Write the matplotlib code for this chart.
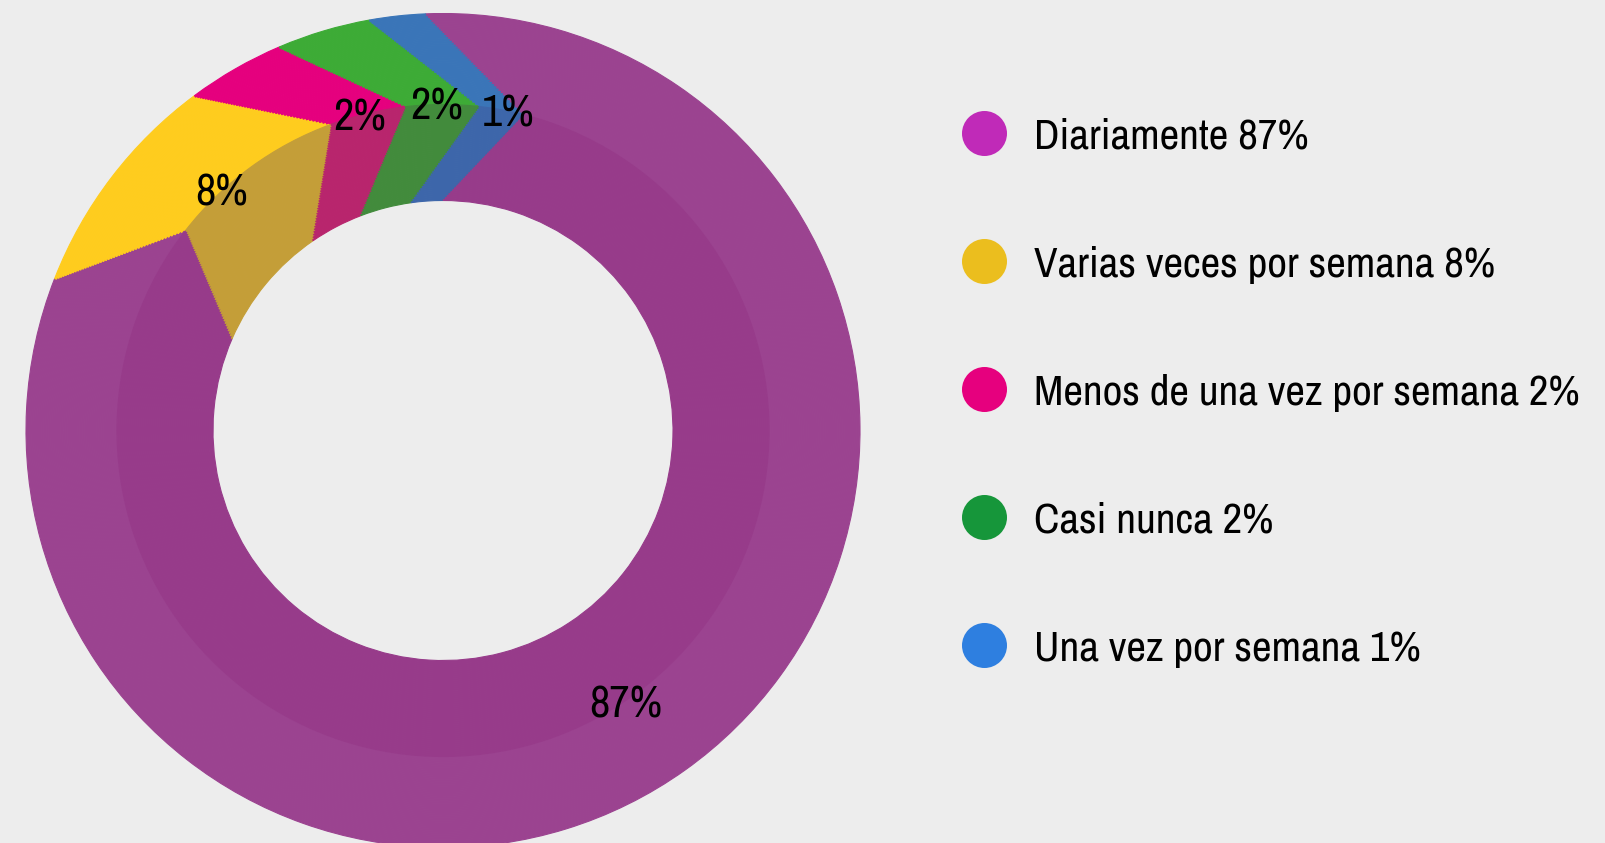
import numpy as np
import matplotlib.pyplot as plt

# datos de la encuesta
categories = ["Diariamente", "Varias veces por semana", "Menos de una vez por semana",
              "Casi nunca", "Una vez por semana"]
percent = [87, 8, 2, 2, 1]                 # porcentajes impresos
arc_share = [81.6, 8.9, 3.75, 3.6, 2.15]   # parte del anillo que ocupa cada sector en el dibujo

ring_colors = ["#9b4390", "#ffcc1e", "#e5007e", "#3dab36", "#3a75b8"]
band_colors = ["#973b8a", "#c49e38", "#b8256d", "#428b3c", "#3d66aa"]
dot_colors = ["#c02ab8", "#ebbe1e", "#e6007e", "#16963a", "#2e7fe0"]
label_angles = [-56, 132.5, 104.7, 91.1, 78.5]

plt.rcParams['font.family'] = ['Archivo Narrow', 'Liberation Sans', 'DejaVu Sans']
bg = "#ededed"

W, H = 1605, 843
cx, cy = 443, 412.5
R, r_mid, r_in = 417, 326, 230
start = 92.5
twist_mid, twist_in = -16.7, -2.1


def seg_angle(r, r0, a0, r1, a1):
    # angulo del punto de radio r sobre el segmento recto entre dos vertices polares
    p0 = r0 * np.array([np.cos(np.radians(a0)), np.sin(np.radians(a0))])
    p1 = r1 * np.array([np.cos(np.radians(a1)), np.sin(np.radians(a1))])
    d = p1 - p0
    a = d @ d
    b = 2 * (p0 @ d)
    c = p0 @ p0 - r * r
    t = (-b - np.sqrt(max(b * b - 4 * a * c, 0))) / (2 * a)
    p = p0 + t * d
    return np.degrees(np.arctan2(p[1], p[0]))


fig = plt.figure(figsize=(W / 100, H / 100), dpi=100)
fig.patch.set_facecolor(bg)
ax = fig.add_axes([0, 0, 1, 1])

n = 48
bands = [(r_mid, R, ring_colors), (r_in, r_mid, band_colors)]
for lo, hi, cols in bands:
    edges = np.linspace(lo, hi, n + 1)
    for k in range(n):
        r_out = edges[k + 1]
        w = edges[k + 1] - edges[k]
        rm = (edges[k] + edges[k + 1]) / 2
        if hi == R:
            off = seg_angle(rm, R, 0.0, r_mid, twist_mid)
        else:
            off = seg_angle(rm, r_mid, twist_mid, r_in, twist_in)
        wedges, _ = ax.pie(arc_share, radius=r_out, center=(cx, cy), startangle=start + off,
                           counterclock=False, colors=cols,
                           wedgeprops=dict(width=w, linewidth=0.8))
        for wd in wedges:
            wd.set_edgecolor(wd.get_facecolor())

# etiquetas de porcentaje
r_lab = 327
for p, ang in zip(percent, label_angles):
    x = cx + r_lab * np.cos(np.radians(ang))
    y = cy + r_lab * np.sin(np.radians(ang))
    ax.text(x, y, f"{p}%", fontsize=32, ha='center', va='center_baseline', color='black')

# leyenda
y0 = H - 133
for i, (cat, p, col) in enumerate(zip(categories, percent, dot_colors)):
    y = y0 - i * 128
    ax.scatter([984], [y], s=1050, color=col, linewidths=0, zorder=3)
    ax.text(1034, y, f"{cat} {p}%", fontsize=31, ha='left', va='center_baseline', color='black')

ax.set_xlim(0, W)
ax.set_ylim(0, H)
ax.set_aspect('equal')
ax.axis('off')

fig.savefig("out.png", dpi=100, facecolor=bg)
